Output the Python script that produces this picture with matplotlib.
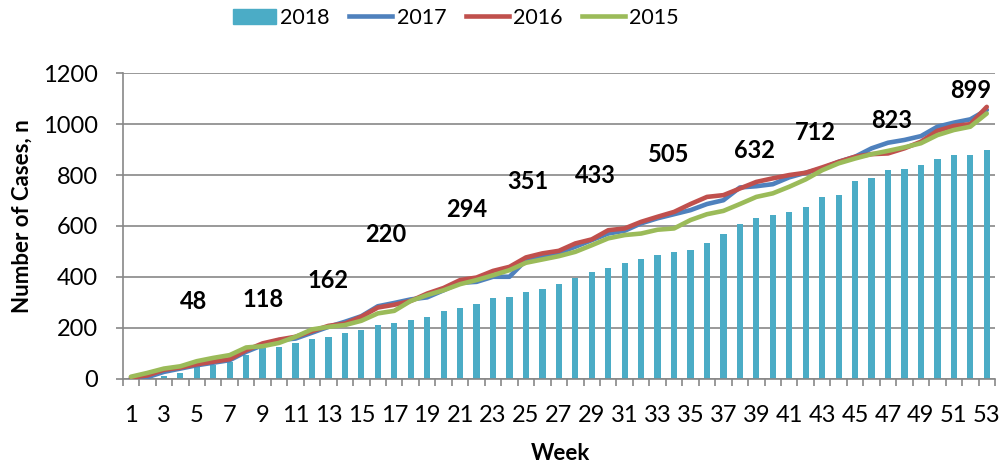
import numpy as np
import matplotlib
matplotlib.use("Agg")
import matplotlib.pyplot as plt
from matplotlib.patches import Patch
from matplotlib.lines import Line2D

plt.rcParams['font.family'] = ['Lato', 'DejaVu Sans']

# data
weeks = np.arange(1, 54)
cases_2018 = [3, 5, 10, 20, 48, 55, 66, 92, 118, 124, 140, 157, 162, 180, 190, 210, 220,
              229, 240, 265, 277, 294, 315, 320, 342, 351, 372, 396, 420, 433, 456, 468,
              485, 496, 505, 531, 570, 608, 632, 643, 654, 674, 712, 720, 776, 788, 818,
              823, 839, 864, 878, 880, 899]
cases_2017 = [0, 5, 26, 39, 52, 62, 72, 105, 131, 151, 157, 180, 203, 223, 245, 284, 297,
              311, 319, 347, 376, 380, 400, 400, 465, 478, 494, 518, 544, 570, 581, 610,
              630, 646, 662, 686, 701, 751, 756, 764, 791, 809, 826, 852, 872, 905, 927,
              938, 953, 990, 1006, 1019, 1056]
cases_2016 = [4, 12, 34, 43, 56, 66, 76, 111, 138, 153, 164, 186, 207, 216, 243, 279, 290,
              305, 334, 356, 387, 397, 423, 439, 476, 492, 502, 531, 547, 583, 590, 616,
              636, 655, 686, 714, 721, 747, 773, 787, 800, 809, 830, 852, 872, 882, 885,
              905, 931, 974, 993, 1000, 1068]
cases_2015 = [7, 22, 39, 48, 68, 81, 92, 122, 127, 140, 164, 193, 203, 210, 227, 256, 266,
              305, 328, 347, 371, 387, 406, 426, 455, 468, 481, 498, 524, 551, 564, 570,
              585, 590, 623, 646, 659, 686, 714, 728, 754, 783, 819, 846, 865, 882, 895,
              909, 925, 957, 977, 990, 1042]

# monthly totals shown as bold numbers
label_weeks = [5, 9, 13, 17, 22, 26, 30, 35, 39, 43, 48, 53]
label_x = [4.8, 9.0, 13.0, 16.5, 21.4, 25.1, 29.2, 33.7, 38.9, 42.6, 47.2, 52.0]
label_y = [302, 309, 385, 568, 663, 774, 800, 879, 896, 967, 1013, 1132]

BAR_C = '#4BACC6'
BLUE = '#4F81BD'
RED = '#C0504D'
GREEN = '#9BBB59'
GRID = '#878787'
FS = 17

fig = plt.figure(figsize=(10.02, 4.65), dpi=100)
ax = fig.add_axes([122.7 / 1002, 1 - 378.5 / 465, (995 - 122.7) / 1002, (378.5 - 73.3) / 465])

ax.bar(weeks, cases_2018, width=0.38, color=BAR_C, zorder=2)
ax.plot(weeks, cases_2017, color=BLUE, lw=3.3, solid_capstyle='round', zorder=3)
ax.plot(weeks, cases_2016, color=RED, lw=3.3, solid_capstyle='round', zorder=4)
ax.plot(weeks, cases_2015, color=GREEN, lw=3.3, solid_capstyle='round', zorder=5)

for w, lx, ly in zip(label_weeks, label_x, label_y):
    ax.text(lx, ly, str(cases_2018[w - 1]), ha='center', va='center',
            fontsize=17, fontweight='bold', zorder=6)

ax.set_xlim(0.5, 53.5)
ax.set_ylim(0, 1200)
ax.set_yticks(np.arange(0, 1201, 200))
ax.set_xticks(weeks)
ax.set_xticklabels([str(w) if w % 2 == 1 else '' for w in weeks])
ax.set_xticks(np.arange(0.5, 54, 1), minor=True)
ax.tick_params(axis='x', which='major', length=0, pad=19, labelsize=FS)
ax.tick_params(axis='x', which='minor', length=5, color=GRID, width=1.2, direction='out')
ax.tick_params(axis='y', length=5, color=GRID, width=1.2, pad=13, labelsize=FS)

ax.grid(axis='y', color=GRID, lw=1.2, zorder=0)
ax.set_axisbelow(True)
for s in ['top', 'right']:
    ax.spines[s].set_visible(False)
for s in ['left', 'bottom']:
    ax.spines[s].set_color(GRID)
    ax.spines[s].set_linewidth(1.2)

fig.text(22 / 1002, 1 - 216 / 465, 'Number of Cases, n', rotation=90, ha='center',
         va='center', fontsize=16, fontweight='bold')
fig.text(560 / 1002, 1 - 453 / 465, 'Week', ha='center', va='center',
         fontsize=16, fontweight='bold')

handles = [Patch(color=BAR_C), Line2D([], [], color=BLUE, lw=3.3),
           Line2D([], [], color=RED, lw=3.3), Line2D([], [], color=GREEN, lw=3.3)]
fig.legend(handles, ['2018', '2017', '2016', '2015'], loc='center',
           bbox_to_anchor=(456 / 1002, 1 - 18 / 465), ncol=4, frameon=False,
           fontsize=15.5, handlelength=2.0, handletextpad=0.2, columnspacing=0.9)

fig.savefig('out.png', dpi=100)
